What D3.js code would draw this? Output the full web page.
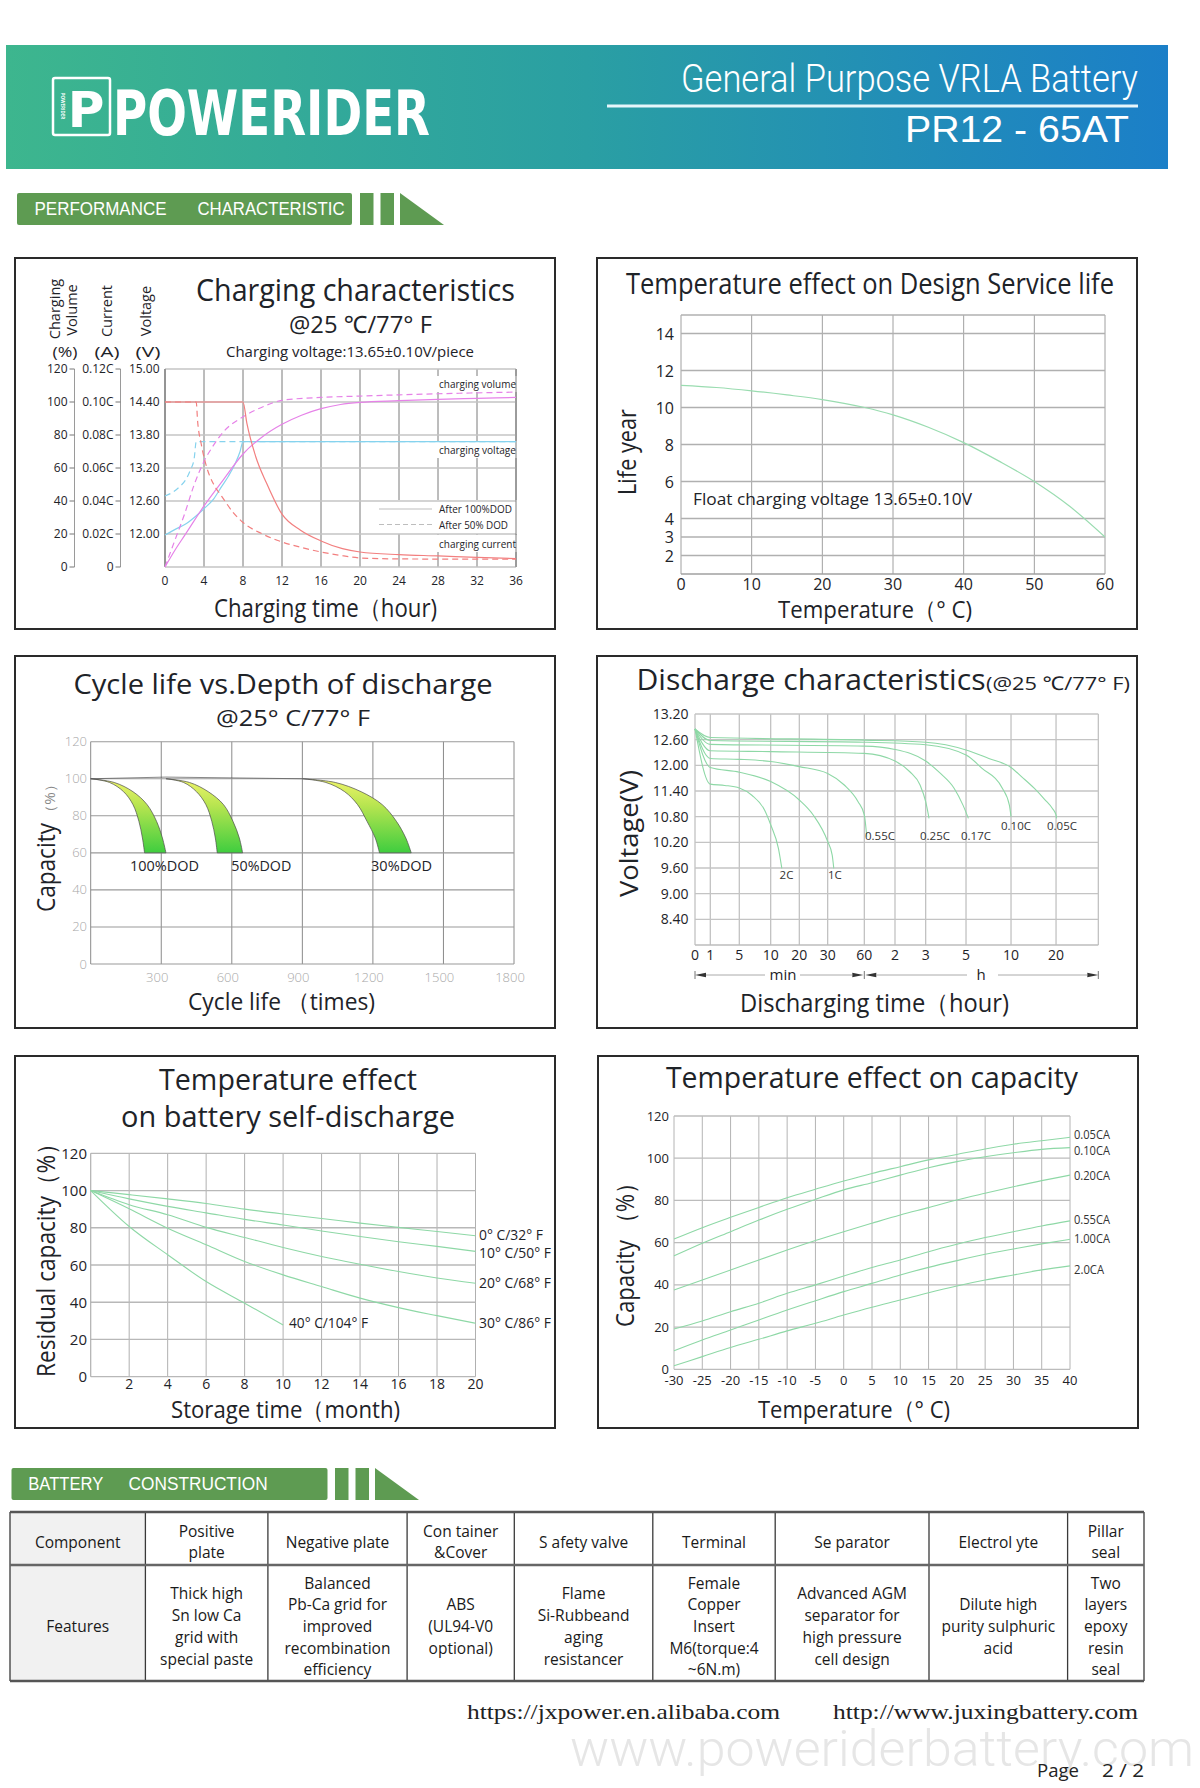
<!DOCTYPE html>
<html><head><meta charset="utf-8">
<script src="https://cdn.jsdelivr.net/npm/d3@7"></script>
<style>
html,body{margin:0;padding:0;background:#fff;}
svg{display:block;}
</style></head><body>
<svg id="page" width="1200" height="1788"></svg>
<script>
// ================= DATA =================
// Chart 1: charging characteristics (hours, value)
const chgPctTicks = [0,20,40,60,80,100,120];
const chgCurrentTicks = [0,0.02,0.04,0.06,0.08,0.10,0.12];
const chgVoltTicks = [12.00,12.60,13.20,13.80,14.40,15.00];
const chgHourTicks = [0,4,8,12,16,20,24,28,32,36];
const chgCurrent100 = [[0,0.100],[8,0.100],[8.4,0.087],[9.3,0.067],[10.4,0.051],[12,0.032],[13.9,0.0223],[16,0.0158],[18.2,0.0111],[20,0.0091],[24,0.0075],[28,0.0067],[32,0.0058],[36,0.0051]];
const chgCurrent50 = [[0,0.100],[3.2,0.100],[3.35,0.088],[3.7,0.075],[4.2,0.062],[5,0.050],[5.8,0.043],[7,0.033],[8,0.027],[10,0.020],[12,0.0152],[14,0.0118],[16,0.0091],[18,0.0070],[20,0.0055],[24,0.0049],[36,0.0047]];
const chgVolume100 = [[0,0],[1,10],[2,19],[4,37],[6,53],[8,68.5],[10,79],[12,86.5],[14,92],[16,96],[18,98.5],[20,99.8],[24,100.8],[28,101.6],[32,102.2],[36,102.8]];
const chgVolume50 = [[0,0],[1,16],[2,32],[3,50],[4,64],[5,74],[6,82],[8,91],[10,97],[12,101],[16,102.8],[20,103.6],[28,105],[36,106]];
const chgVoltage100 = [[0,11.98],[1,12.08],[2.2,12.19],[3,12.30],[4,12.46],[5,12.64],[5.8,12.86],[6.5,13.05],[7.2,13.28],[7.7,13.50],[8,13.68],[36,13.68]];
const chgVoltage50 = [[0,12.69],[0.8,12.76],[1.5,12.86],[2.1,12.98],[2.6,13.16],[3,13.38],[3.2,13.68],[36,13.68]];

// Chart 2: temperature vs design service life
const lifeXTicks = [0,10,20,30,40,50,60];
const lifeYTicks = [2,3,4,6,8,10,12,14];
const lifeTemps = [0,5,10,15,20,26,30,35,40,45,50,55,60];
const lifeYears = [11.2,11.08,10.9,10.68,10.43,10.0,9.6,8.93,8.1,7.1,6.0,4.66,3.0];

// Chart 3: cycle life vs DOD
const cycleXTicks = [300,600,900,1200,1500,1800];
const cycleYTicks = [0,20,40,60,80,100,120];
const dodNames = ["100%DOD","50%DOD","30%DOD"];
const dodLabelX = [167,598,1192];
const dod100Outer = [[0,100],[100,98],[180,93],[240,86],[280,77],[305,68],[320,60]];
const dod100Inner = [[0,100],[80,98],[140,93],[180,86],[205,77],[220,68],[229,60]];
const dod50Outer = [[320,100],[420,98],[500,93],[565,86],[605,77],[632,68],[646,60]];
const dod50Inner = [[320,100],[395,98],[450,93],[490,86],[515,77],[530,68],[538,60]];
const dod30Outer = [[900,100],[1040,98],[1150,93],[1240,86],[1300,77],[1340,68],[1363,60]];
const dod30Inner = [[900,100],[1000,98],[1080,93],[1135,86],[1175,77],[1210,68],[1228,60]];
const cycleTopLine = [[0,100],[320,100.9],[900,100]];

// Chart 4: discharge characteristics (minutes, volts)
const dischMinutes = [0,1,5,10,20,30,60,120,180,300,600,1200,2400];
const dischTickLabels = ["0","1","5","10","20","30","60","2","3","5","10","20"];
const dischYTicks = [13.20,12.60,12.00,11.40,10.80,10.20,9.60,9.00,8.40];
const dischNames = ["2C","1C","0.55C","0.25C","0.17C","0.10C","0.05C"];
const disch2C = [[0,12.85],[1,11.56],[3,11.53],[5,11.47],[7,11.30],[9,10.96],[10,10.61],[12.7,10.06],[13.9,9.59]];
const disch1C = [[0,12.85],[1,11.95],[5,11.84],[10,11.62],[20,11.19],[24.9,10.84],[30,10.22],[33.7,9.90],[35,9.59]];
const disch055C = [[0,12.85],[1,12.16],[5,12.14],[10,12.09],[20,11.97],[30,11.81],[43.6,11.54],[54.9,11.15],[60,10.84],[64.8,10.33]];
const disch025C = [[0,12.85],[1,12.34],[10,12.32],[60,12.28],[120,12.10],[149,11.85],[169,11.54],[180,11.15],[190,10.76]];
const disch017C = [[0,12.85],[1,12.49],[60,12.45],[120,12.37],[180,12.10],[224,11.81],[265,11.46],[291,11.07],[316,10.76]];
const disch010C = [[0,12.85],[1,12.58],[60,12.54],[180,12.48],[300,12.24],[407,11.93],[543,11.46],[589,11.07],[600,10.80]];
const disch005C = [[0,12.85],[1,12.65],[60,12.59],[180,12.54],[300,12.36],[452,12.16],[600,11.95],[750,11.72],[912,11.46],[1050,11.20],[1152,10.99],[1200,10.84],[1215,10.76]];

// Chart 5: self-discharge (months, %)
const sdXTicks = [2,4,6,8,10,12,14,16,18,20];
const sdYTicks = [0,20,40,60,80,100,120];
const sdMonths = [0,2,4,6,8,10,12,14,16,18,20];
const sd0C  = [100,97.8,95.5,93,90,87.4,85,82.5,80.2,78,75.7];
const sd10C = [100,95.5,91.5,88,84.5,81.5,78.3,75.3,72.5,70,67.3];
const sd20C = [100,92.4,87,80.2,74.8,69.4,64.6,60.4,56.5,53,50.2];
const sd30C = [100,90.2,79.8,70.9,61.9,54.7,48.4,42.2,37.1,32.8,28.7];
const sd40Months = [0,2,4,6,8,10];
const sd40C = [100,80.7,65.5,51.1,39.5,27.8];
const sdLabels = ["0° C/32° F","10° C/50° F","20° C/68° F","30° C/86° F","40° C/104° F"];

// Chart 6: temperature vs capacity
const tcXTicks = [-30,-25,-20,-15,-10,-5,0,5,10,15,20,25,30,35,40];
const tcYTicks = [0,20,40,60,80,100,120];
const tcTemps = [-30,-25,-20,-15,-10,-5,0,5,10,15,20,25,30,35,40];
const tc005 = [61.7,67.1,72,76.7,81.3,85.3,89.2,92.8,96,99.2,101.8,104.4,106.6,108.3,109.9];
const tc010 = [53.7,59.7,65.2,70.7,75.8,80.5,85,88.4,92,95.5,98.4,100.7,102.6,104.2,105];
const tc020 = [37.6,42.3,47,51.8,56.5,61,65.2,69.2,73.1,76.6,80.2,83.4,86.5,89.4,92];
const tc055 = [19.1,22.9,27.3,31.3,36,40,44.2,48.2,51.8,55.7,59.2,62.4,65.2,67.9,70.3];
const tc100 = [8.8,13.9,18.6,23.4,28.1,32.5,36.8,40.7,44.7,48.3,51.5,54.5,57,59.4,61.6];
const tc200 = [1.7,6,10.3,14.2,18.2,21.8,25.7,29.4,32.8,36.3,39.5,42.3,44.7,47.1,49];
const tcNames = ["0.05CA","0.10CA","0.20CA","0.55CA","1.00CA","2.0CA"];

// Table
const tblComponents = ["Component","Positive\nplate","Negative plate","Con tainer\n&Cover","S afety valve","Terminal","Se parator","Electrol yte","Pillar\nseal"];
const tblFeatures = ["Features","Thick high\nSn low Ca\ngrid with\nspecial paste","Balanced\nPb-Ca grid for\nimproved\nrecombination\nefficiency","ABS\n(UL94-V0\noptional)","Flame\nSi-Rubbeand\naging\nresistancer","Female\nCopper\nInsert\nM6(torque:4\n~6N.m)","Advanced AGM\nseparator for\nhigh pressure\ncell design","Dilute high\npurity sulphuric\nacid","Two\nlayers\nepoxy\nresin\nseal"];

// ================= DRAW =================
const svg = d3.select("#page");
const SANS = "'Open Sans','Noto Sans',sans-serif";
const INK = "#1e2328";
const GREEN = "#8ed8a6";

function T(g, x, y, s, o = {}) {
  const t = g.append("text").attr("x", x).attr("y", y).text(s)
    .attr("font-family", o.family || SANS).attr("font-size", o.size || 14)
    .attr("fill", o.fill || INK).attr("text-anchor", o.anchor || "start");
  if (o.weight) t.attr("font-weight", o.weight);
  if (o.len) t.attr("textLength", o.len).attr("lengthAdjust", "spacingAndGlyphs");
  if (o.rot) t.attr("transform", `rotate(${o.rot},${x},${y})`);
  return t;
}
function L(g, x1, y1, x2, y2, stroke, w, dash) {
  const l = g.append("line").attr("x1", x1).attr("y1", y1).attr("x2", x2).attr("y2", y2)
    .attr("stroke", stroke).attr("stroke-width", w || 1);
  if (dash) l.attr("stroke-dasharray", dash);
  return l;
}
function panel(x, y, w, h) {
  svg.append("rect").attr("x", x).attr("y", y).attr("width", w).attr("height", h)
    .attr("fill", "#fff").attr("stroke", "#2a2a2a").attr("stroke-width", 2);
}
function plotCurve(g, pts, xs, ys, color, w, dash, curve) {
  const p = g.append("path").datum(pts)
    .attr("d", d3.line().x(d => xs(d[0])).y(d => ys(d[1])).curve(curve || d3.curveMonotoneX))
    .attr("fill", "none").attr("stroke", color).attr("stroke-width", w || 1.2);
  if (dash) p.attr("stroke-dasharray", dash);
  return p;
}

const defs = svg.append("defs");
const hg = defs.append("linearGradient").attr("id", "hdr").attr("x1", 0).attr("x2", 1).attr("y1", 0).attr("y2", 0);
hg.append("stop").attr("offset", "0%").attr("stop-color", "#3db68e");
hg.append("stop").attr("offset", "50%").attr("stop-color", "#2a9fa3");
hg.append("stop").attr("offset", "100%").attr("stop-color", "#1b7fc8");

// ---------- Header ----------
svg.append("rect").attr("x", 6).attr("y", 45).attr("width", 1162).attr("height", 124).attr("fill", "url(#hdr)");
svg.append("rect").attr("x", 53).attr("y", 78).attr("width", 57).attr("height", 57).attr("rx", 2)
  .attr("fill", "none").attr("stroke", "#fff").attr("stroke-width", 2.5);
T(svg, 86, 127, "P", {family: "'DejaVu Sans',sans-serif", weight: 900, size: 50, fill: "#fff", anchor: "middle"});
T(svg, 61, 106, "POWERIDER", {size: 4.5, fill: "#fff", anchor: "middle", rot: 90, weight: 700});
T(svg, 113, 135, "POWERIDER", {family: "'DejaVu Sans',sans-serif", weight: 900, size: 62, fill: "#fff", len: 317});
T(svg, 681, 92, "General Purpose  VRLA Battery", {family: "Roboto,'Liberation Sans',sans-serif", weight: 300, size: 39, fill: "#fff", len: 457});
L(svg, 607, 106, 1138, 106, "#e6f6fb", 3);
T(svg, 905, 142, "PR12 - 65AT", {family: "'Liberation Sans',Arial,sans-serif", size: 37, fill: "#fff", len: 224});

function sectionLabel(x, y, w, h, words, wordX, wordLen, barX) {
  const c = "#5e9b52";
  svg.append("rect").attr("x", x).attr("y", y).attr("width", w).attr("height", h).attr("rx", 2).attr("fill", c);
  words.forEach((wd, i) => T(svg, wordX[i], y + h - 10, wd, {family: "'Liberation Sans',Arial,sans-serif", size: 18, fill: "#fff", len: wordLen[i]}));
  svg.append("rect").attr("x", barX).attr("y", y).attr("width", 13.5).attr("height", h).attr("fill", c);
  svg.append("rect").attr("x", barX + 20.5).attr("y", y).attr("width", 13.5).attr("height", h).attr("fill", c);
  svg.append("path").attr("d", `M${barX + 40},${y} L${barX + 40},${y + h} L${barX + 84},${y + h} Z`).attr("fill", c);
}
sectionLabel(17, 193, 335, 32, ["PERFORMANCE", "CHARACTERISTIC"], [34.5, 197.5], [132, 147], 360);

// ---------- Chart 1 ----------
panel(15, 258, 540, 371);
{
  const g = svg.append("g");
  const x = d3.scaleLinear().domain([0, 36]).range([165, 516]);
  const yP = d3.scaleLinear().domain([0, 120]).range([567, 369]);
  const yC = d3.scaleLinear().domain([0, 0.12]).range([567, 369]);
  const yV = d3.scaleLinear().domain([11.4, 15.0]).range([567, 369]);
  chgHourTicks.forEach(h => L(g, x(h), 369, x(h), 567, "#7a7a7a", 1));
  [[437, 376, 80, 16], [437, 441, 80, 17], [376, 500, 141, 34], [437, 535, 80, 17]].forEach(r =>
    g.append("rect").attr("x", r[0]).attr("y", r[1]).attr("width", r[2]).attr("height", r[3]).attr("fill", "#fff"));
  chgPctTicks.forEach(v => L(g, 165, yP(v), 516, yP(v), "#c4c4c4", 1.5));
  L(g, 516, 369, 516, 567, "#7a7a7a", 1);
  L(g, 165, 369, 165, 567, "#7a7a7a", 1.2);
  L(g, 74.5, 369, 74.5, 567, "#9a9a9a", 1);
  L(g, 120.5, 369, 120.5, 567, "#9a9a9a", 1);
  chgPctTicks.forEach(v => {
    L(g, 69.5, yP(v), 74.5, yP(v), "#777", 1);
    T(g, 67.5, yP(v) + 4, v, {size: 12, anchor: "end"});
  });
  chgCurrentTicks.forEach(v => {
    L(g, 115.5, yC(v), 120.5, yC(v), "#777", 1);
    T(g, 113.5, yC(v) + 4, v === 0 ? "0" : v.toFixed(2) + "C", {size: 12, anchor: "end"});
  });
  chgVoltTicks.forEach(v => {
    T(g, 159.5, yV(v) + 4, v.toFixed(2), {size: 12, anchor: "end"});
  });
  chgHourTicks.forEach(h => T(g, x(h), 585, h, {size: 12, anchor: "middle"}));
  T(g, 60, 309, "Charging", {size: 14.5, anchor: "middle", rot: -90});
  T(g, 77, 310, "Volume", {size: 14.5, anchor: "middle", rot: -90});
  T(g, 112, 311, "Current", {size: 14.5, anchor: "middle", rot: -90});
  T(g, 151, 311, "Voltage", {size: 14.5, anchor: "middle", rot: -90});
  T(g, 65, 357, "(%)", {size: 14, anchor: "middle", len: 25});
  T(g, 107, 357, "(A)", {size: 14, anchor: "middle", len: 25});
  T(g, 148, 357, "(V)", {size: 14, anchor: "middle", len: 25});
  T(g, 355.5, 301, "Charging characteristics", {size: 31, anchor: "middle", len: 319});
  T(g, 360.5, 333, "@25 ℃/77° F", {size: 24, anchor: "middle", len: 143});
  T(g, 350, 357, "Charging voltage:13.65±0.10V/piece", {size: 15, anchor: "middle", len: 248});
  T(g, 325.5, 617, "Charging time（hour)", {size: 25, anchor: "middle", len: 223});
  const RED = "#f27f7f", MAG = "#e682e8", BLUE = "#86d3ee";
  plotCurve(g, chgVoltage100, x, yV, BLUE, 1.2);
  plotCurve(g, chgVoltage50, x, yV, BLUE, 1.2, "6,4");
  plotCurve(g, chgVolume100, x, yP, MAG, 1.2);
  plotCurve(g, chgVolume50, x, yP, MAG, 1.2, "6,4");
  plotCurve(g, chgCurrent100, x, yC, RED, 1.2);
  plotCurve(g, chgCurrent50, x, yC, RED, 1.2, "6,4");
  T(g, 439, 388, "charging volume", {size: 10.5, len: 77});
  T(g, 439, 453.5, "charging voltage", {size: 10.5, len: 77});
  L(g, 379, 509, 432, 509, "#bdbdbd", 1);
  L(g, 379, 524.5, 432, 524.5, "#bdbdbd", 1, "5,3");
  T(g, 439, 513, "After 100%DOD", {size: 10.5, len: 73});
  T(g, 439, 528.5, "After  50% DOD", {size: 10.5, len: 69});
  T(g, 439, 547.5, "charging current", {size: 10.5, len: 77});
}

// ---------- Chart 2 ----------
panel(597, 258, 540, 371);
{
  const g = svg.append("g");
  const x = d3.scaleLinear().domain([0, 60]).range([681, 1105]);
  const y = d3.scaleLinear().domain([1, 15]).range([574, 315]);
  lifeXTicks.forEach(v => L(g, x(v), 315, x(v), 574, "#a0a0a0", 1));
  lifeYTicks.forEach(v => L(g, 681, y(v), 1105, y(v), "#b0b0b0", 1.3));
  L(g, 681, 315, 1105, 315, "#b0b0b0", 1.3);
  L(g, 681, 574, 1105, 574, "#a0a0a0", 1.3);
  lifeYTicks.forEach(v => T(g, 674, y(v) + 6, v, {size: 16, anchor: "end"}));
  lifeXTicks.forEach(v => T(g, x(v), 590, v, {size: 16, anchor: "middle"}));
  T(g, 870, 294, "Temperature effect on Design Service life", {size: 29, anchor: "middle", len: 488});
  T(g, 636, 452, "Life year", {size: 25, anchor: "middle", rot: -90, len: 86});
  T(g, 875, 618, "Temperature（° C)", {size: 24, anchor: "middle", len: 194});
  T(g, 693, 505, "Float charging voltage  13.65±0.10V", {size: 17, len: 279});
  plotCurve(g, lifeTemps.map((t, i) => [t, lifeYears[i]]), x, y, "#9adcb0", 1.2);
}

// ---------- Chart 3 ----------
panel(15, 656, 540, 372);
{
  const g = svg.append("g");
  const x = d3.scaleLinear().domain([0, 1800]).range([90.7, 514]);
  const y = d3.scaleLinear().domain([0, 120]).range([964, 741.7]);
  const gr = defs.append("linearGradient").attr("id", "dodg").attr("gradientUnits", "userSpaceOnUse")
    .attr("x1", 0).attr("x2", 0).attr("y1", y(100)).attr("y2", y(60));
  gr.append("stop").attr("offset", "0%").attr("stop-color", "#eef46a");
  gr.append("stop").attr("offset", "35%").attr("stop-color", "#b9e550");
  gr.append("stop").attr("offset", "100%").attr("stop-color", "#3fcd3f");
  cycleXTicks.forEach(v => L(g, x(v), 741.7, x(v), 964, "#8a8a8a", 1));
  cycleYTicks.forEach(v => L(g, 90.7, y(v), 514, y(v), "#9a9a9a", 1.1));
  L(g, 90.7, 741.7, 90.7, 964, "#8a8a8a", 1);
  cycleYTicks.forEach(v => T(g, 87, y(v) + 4.5, v, {size: 13, anchor: "end", fill: "#a8a8a8", weight: 300}));
  cycleXTicks.forEach(v => T(g, x(v) - 4, 982, v, {size: 13, anchor: "middle", fill: "#a8a8a8", weight: 300}));
  const lineX = d3.line().x(d => x(d[0])).y(d => y(d[1])).curve(d3.curveCatmullRom.alpha(0.5));
  [[dod100Outer, dod100Inner], [dod50Outer, dod50Inner], [dod30Outer, dod30Inner]].forEach(([o, i]) => {
    const a = lineX(o);
    const b = lineX(i.slice().reverse()).replace(/^M/, "L");
    g.append("path").attr("d", a + b + "Z").attr("fill", "url(#dodg)").attr("stroke", "#4a4a4a").attr("stroke-width", 0.7);
  });
  g.append("path").attr("d", d3.line().x(d => x(d[0])).y(d => y(d[1]))(cycleTopLine))
    .attr("fill", "none").attr("stroke", "#555").attr("stroke-width", 0.7);
  dodNames.forEach((n, i) => T(g, x(dodLabelX[i]), y(53) + 5, n, {size: 14.5, len: [69, 60, 61][i]}));
  T(g, 283, 694, "Cycle life vs.Depth of discharge", {size: 28, anchor: "middle", len: 419});
  T(g, 293, 725.7, "@25°  C/77°  F", {size: 22, anchor: "middle", len: 154});
  T(g, 54.5, 912, "Capacity", {size: 25, rot: -90, len: 89});
  T(g, 54.5, 820, "（%）", {size: 14, rot: -90, fill: "#888", len: 43});
  T(g, 281.5, 1010, "Cycle life （times)", {size: 24, anchor: "middle", len: 187});
}

// ---------- Chart 4 ----------
panel(597, 656, 540, 372);
{
  const g = svg.append("g");
  const x0 = 695, W = 403.3;
  const axisFrac = [0, .0379, .1098, .1877, .2586, .3290, .4198, .4959, .5720, .6720, .7836, .8952, 1];
  const x = d3.scaleLinear().domain(dischMinutes).range(axisFrac.map(f => x0 + f * W));
  const y = d3.scaleLinear().domain([7.8, 13.2]).range([945, 714]);
  dischMinutes.forEach(m => L(g, x(m), 714, x(m), 945, "#bdbdbd", 1.2));
  dischYTicks.forEach(v => L(g, x0, y(v), x0 + W, y(v), "#c4c4c4", 1.4));
  L(g, x0, 945, x0 + W, 945, "#bdbdbd", 1.4);
  dischYTicks.forEach(v => T(g, 688.5, y(v) + 5, v.toFixed(2), {size: 14, anchor: "end"}));
  dischTickLabels.forEach((s, i) => T(g, x(dischMinutes[i]), 960, s, {size: 14, anchor: "middle"}));
  const ry = 975, ac = "#333";
  const arrow = (xa, dir) => g.append("path").attr("d", `M${xa},${ry} L${xa + dir * 11},${ry - 2.2} L${xa + dir * 11},${ry + 2.2} Z`).attr("fill", ac);
  L(g, x(0), ry - 4, x(0), ry + 4, "#777", 1);
  L(g, x(60), ry - 4, x(60), ry + 4, "#777", 1);
  L(g, x(2400), ry - 4, x(2400), ry + 4, "#777", 1);
  arrow(x(0), 1); arrow(x(60) - 1, -1); arrow(x(60) + 1, 1); arrow(x(2400), -1);
  L(g, x(0) + 11, ry, 765, ry, "#aaa", 1);
  L(g, 800, ry, x(60) - 12, ry, "#aaa", 1);
  L(g, x(60) + 12, ry, 967, ry, "#aaa", 1);
  L(g, 998, ry, x(2400) - 11, ry, "#aaa", 1);
  T(g, 783, 980, "min", {size: 15, anchor: "middle"});
  T(g, 981, 980, "h", {size: 15, anchor: "middle"});
  [disch2C, disch1C, disch055C, disch025C, disch017C, disch010C, disch005C].forEach(c => plotCurve(g, c, x, y, GREEN, 1.1));
  const lab = [[779.6, 879], [828, 879], [865, 840], [920, 840], [961, 840], [1001, 830], [1047, 830]];
  dischNames.forEach((n, i) => T(g, lab[i][0], lab[i][1], n, {size: 11.5, fill: "#333"}));
  T(g, 811, 690, "Discharge characteristics", {size: 30, anchor: "middle", len: 349});
  T(g, 1058, 690, "(@25 ℃/77°  F)", {size: 19, anchor: "middle", len: 144});
  T(g, 638, 833.5, "Voltage(V)", {size: 26, anchor: "middle", rot: -90, len: 127});
  T(g, 874.5, 1012, "Discharging time（hour)", {size: 25, anchor: "middle", len: 269});
}

// ---------- Chart 5 ----------
panel(15, 1056, 540, 372);
{
  const g = svg.append("g");
  const x = d3.scaleLinear().domain([0, 20]).range([90.7, 475.5]);
  const y = d3.scaleLinear().domain([0, 120]).range([1376.7, 1153.3]);
  sdXTicks.forEach(v => L(g, x(v), 1153.3, x(v), 1376.7, "#b0b0b0", 1));
  sdYTicks.forEach(v => L(g, 90.7, y(v), 475.5, y(v), "#b8b8b8", 1.3));
  L(g, 90.7, 1153.3, 90.7, 1376.7, "#b0b0b0", 1.2);
  sdYTicks.forEach(v => T(g, 87, y(v) + 5.5, v, {size: 15, anchor: "end"}));
  sdXTicks.forEach(v => T(g, x(v), 1389, v, {size: 14, anchor: "middle"}));
  [sd0C, sd10C, sd20C, sd30C].forEach(s => plotCurve(g, sdMonths.map((m, i) => [m, s[i]]), x, y, GREEN, 1.1));
  plotCurve(g, sd40Months.map((m, i) => [m, sd40C[i]]), x, y, GREEN, 1.1);
  const ly = [1235, 1252.7, 1283.3, 1322.7];
  [0, 1, 2, 3].forEach(i => T(g, 479, ly[i] + 5, sdLabels[i], {size: 14, len: [64, 72, 72, 72][i]}));
  T(g, 289, 1327.7, sdLabels[4], {size: 14, len: 79});
  T(g, 288, 1090, "Temperature effect", {size: 29, anchor: "middle", len: 258});
  T(g, 288, 1126.7, "on battery self-discharge", {size: 29, anchor: "middle", len: 334});
  T(g, 55, 1254.5, "Residual capacity（%）", {size: 25, anchor: "middle", rot: -90, len: 245});
  T(g, 285.5, 1418, "Storage time（month)", {size: 24, anchor: "middle", len: 229});
}

// ---------- Chart 6 ----------
panel(598, 1056, 540, 372);
{
  const g = svg.append("g");
  const x = d3.scaleLinear().domain([-30, 40]).range([674, 1070]);
  const y = d3.scaleLinear().domain([0, 120]).range([1369.3, 1116]);
  tcXTicks.forEach(v => L(g, x(v), 1116, x(v), 1369.3, "#b4b4b4", 1));
  tcYTicks.forEach(v => L(g, 674, y(v), 1070, y(v), "#bcbcbc", 1.3));
  tcYTicks.forEach(v => T(g, 669, y(v) + 4.5, v, {size: 13, anchor: "end"}));
  tcXTicks.forEach(v => T(g, x(v), 1384.5, v, {size: 13, anchor: "middle"}));
  [tc005, tc010, tc020, tc055, tc100, tc200].forEach(s => plotCurve(g, tcTemps.map((t, i) => [t, s[i]]), x, y, GREEN, 1.1));
  const ly = [1134.3, 1150, 1175, 1219.3, 1238.3, 1269.3];
  tcNames.forEach((n, i) => T(g, 1074, ly[i] + 4.5, n, {size: 12.5, fill: "#333", len: n.length === 6 ? 36 : 30}));
  T(g, 872, 1088, "Temperature effect on capacity", {size: 30, anchor: "middle", len: 412});
  T(g, 634, 1249.5, "Capacity （%）", {size: 25, anchor: "middle", rot: -90, len: 155});
  T(g, 854, 1418, "Temperature（° C)", {size: 24, anchor: "middle", len: 192});
}

// ---------- Battery construction ----------
sectionLabel(11.5, 1468, 316, 32, ["BATTERY", "CONSTRUCTION"], [28.3, 128.6], [75, 139], 335);
{
  const g = svg.append("g");
  const colW = [135.4, 122.5, 139.2, 107.2, 138.5, 122.4, 153.8, 138.6, 76.4];
  const x0 = 10, yTop = 1512, yMid = 1565, yBot = 1681;
  let xs = [x0];
  colW.forEach(w => xs.push(xs[xs.length - 1] + w));
  g.append("rect").attr("x", x0).attr("y", yTop).attr("width", colW[0]).attr("height", yBot - yTop).attr("fill", "#f1f1f1");
  xs.forEach(xx => L(g, xx, yTop, xx, yBot, "#3a3a3a", 1.3));
  L(g, x0, yTop, xs[xs.length - 1], yTop, "#555", 2.5);
  L(g, x0, yMid, xs[xs.length - 1], yMid, "#666", 2.5);
  L(g, x0, yBot, xs[xs.length - 1], yBot, "#555", 2.5);
  function cell(s, i, cy) {
    const lines = s.split("\n");
    const lh = 21.7;
    const cx = (xs[i] + xs[i + 1]) / 2;
    lines.forEach((ln, k) => T(g, cx, cy - (lines.length - 1) / 2 * lh + k * lh + 5.5, ln, {size: 15.5, anchor: "middle", fill: "#1a1a1a"}));
  }
  tblComponents.forEach((s, i) => cell(s, i, (yTop + yMid) / 2 + 3.5));
  tblFeatures.forEach((s, i) => cell(s, i, (yMid + yBot) / 2 + 3.5));
}

// ---------- Footer ----------
T(svg, 467, 1719, "https://jxpower.en.alibaba.com", {family: "'Liberation Serif','DejaVu Serif',serif", size: 21, fill: "#222", len: 313});
T(svg, 833, 1719, "http://www.juxingbattery.com", {family: "'Liberation Serif','DejaVu Serif',serif", size: 21, fill: "#222", len: 305});
T(svg, 570, 1766, "www.poweriderbattery.com", {family: "Roboto,'Liberation Sans',sans-serif", weight: 300, size: 50, fill: "#e6e6e6", len: 624});
T(svg, 1037, 1777, "Page", {size: 18, fill: "#222", len: 42});
T(svg, 1102, 1777, "2 / 2", {size: 18, fill: "#222", len: 42});
</script>
</body></html>
